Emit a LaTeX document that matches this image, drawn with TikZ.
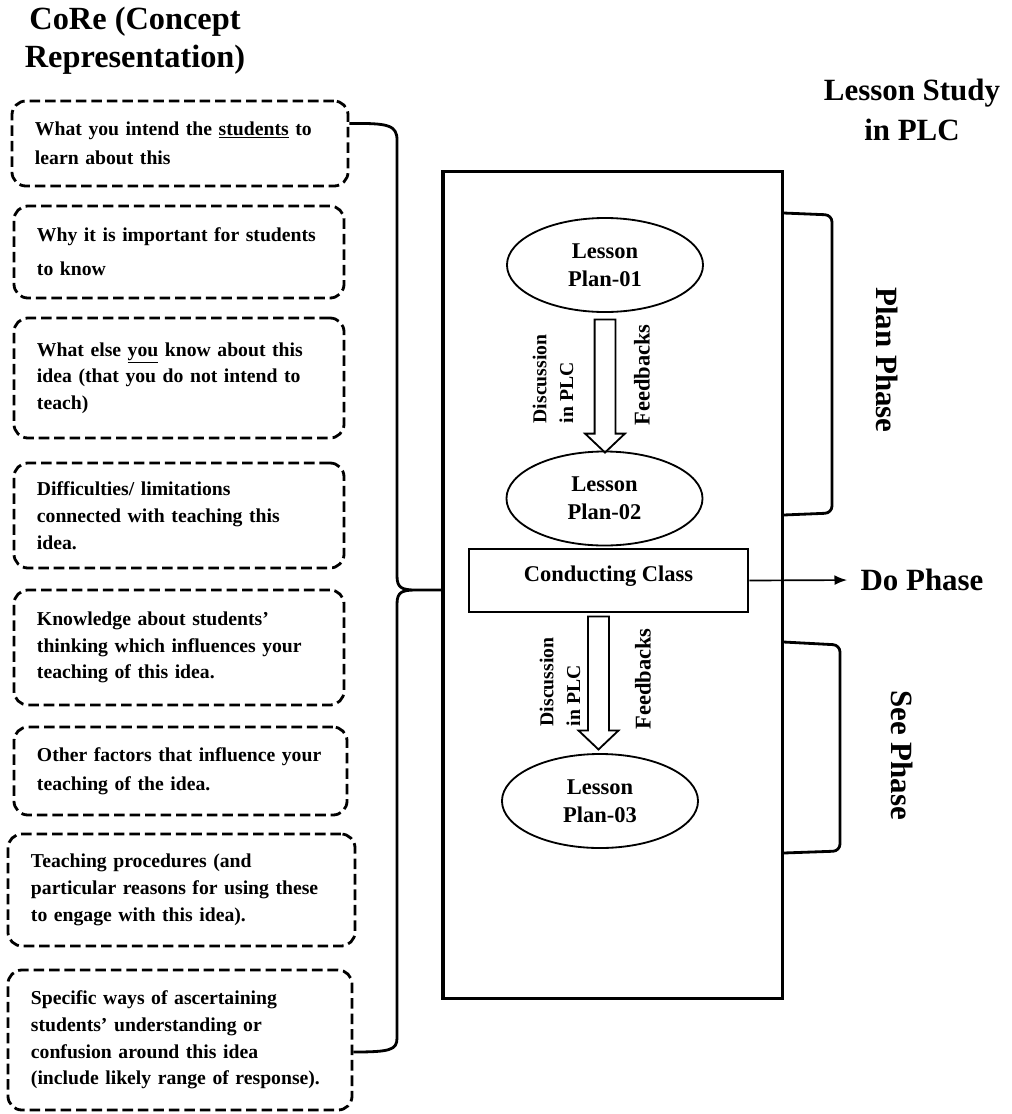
\documentclass[tikz,border=0pt]{standalone}
\usepackage{fontspec}
\setmainfont{Liberation Serif}
\usetikzlibrary{positioning, shapes.geometric, shapes.arrows, arrows.meta}

\begin{document}
\begin{tikzpicture}[x=0.025cm, y=-0.025cm,
    every node/.style={font=\bfseries},
    corebox/.style={draw, dash pattern=on 7.5pt off 3.5pt, line width=2pt, rounded corners=10pt,
        align=left, inner xsep=0.575cm, font=\fontsize{14}{19}\selectfont\bfseries},
    plan/.style={draw, ellipse, line width=1.3pt, minimum width=4.9cm, minimum height=2.35cm,
        align=center, inner sep=0pt, font=\fontsize{16}{20}\selectfont\bfseries},
    blockarrow/.style={draw, single arrow, line width=1.3pt, rotate=-90, inner xsep=0pt, inner ysep=0.2375cm,
        single arrow head extend=0.2375cm, single arrow tip angle=93, minimum height=3.325cm},
    disc/.style={rotate=90, align=left, font=\fontsize{14}{19}\selectfont\bfseries},
    feed/.style={rotate=90, font=\fontsize{16}{19}\selectfont\bfseries},
    phase/.style={font=\fontsize{22}{27}\selectfont\bfseries},
    bracket/.style={line width=2pt, rounded corners=5pt}]
    \useasboundingbox (0,0) rectangle (1012,1114);

    % CoRe column
    \node[phase, align=center, font=\fontsize{23}{27}\selectfont\bfseries] (core) at (135,41) {CoRe (Concept\\Representation)};
    \node[corebox, text width=7.25cm, minimum height=2.125cm] (c1) at (180,143.5) {What you intend the \underline{students} to\\[2pt] learn about this};
    \node[corebox, text width=7.1cm, minimum height=2.3cm] (c2) at (179,252) {Why it is important for students\\[5pt] to know};
    \node[corebox, text width=7.1cm, minimum height=3cm] (c3) at (179,378) {What else \underline{you} know about this\\ idea (that you do not intend to\\ teach)};
    \node[corebox, text width=7.1cm, minimum height=2.625cm] (c4) at (179,515.5) {Difficulties/ limitations\\ connected with teaching this\\ idea.};
    \node[corebox, text width=7.1cm, minimum height=2.875cm] (c5) at (179,647.5) {Knowledge about students'\\ thinking which influences your\\ teaching of this idea.};
    \node[corebox, text width=7.175cm, minimum height=2.2cm] (c6) at (180.5,771) {Other factors that influence your\\[2pt] teaching of the idea.};
    \node[corebox, text width=7.525cm, minimum height=2.8cm] (c7) at (181.5,890) {Teaching procedures (and\\ particular reasons for using these\\ to engage with this idea).};
    \node[corebox, text width=7.45cm, minimum height=3.5cm] (c8) at (180,1040) {Specific ways of ascertaining\\ students' understanding or\\ confusion around this idea\\ (include likely range of response).};

    % Lesson study column
    \node[phase, align=center, font=\fontsize{22}{28}\selectfont\bfseries] (lstitle) at (912,110) {Lesson Study\\in PLC};
    \node[draw, line width=2.2pt, minimum width=8.475cm, minimum height=20.65cm] (ls) at (612.5,585) {};
    \node[plan] (lp1) at (605,265) {Lesson\\Plan-01};
    \node[plan] (lp2) at (604.5,498.5) {Lesson\\Plan-02};
    \node[draw, line width=2pt, minimum width=6.975cm, minimum height=1.575cm,
        font=\fontsize{16}{19}\selectfont\bfseries] (cc) at (608.5,580.5) {\raisebox{0.35cm}{Conducting Class}};
    \node[plan] (lp3) at (600,801) {Lesson\\Plan-03};

    \node[blockarrow, anchor=tail] (ar1) at ([yshift=-4pt]lp1.south) {};
    \node[blockarrow, anchor=tail] (ar2) at ([xshift=-0.25cm, yshift=-1.5pt]cc.south) {};
    \node[disc] (d1) at (553,379) {Discussion\\in PLC};
    \node[feed] (f1) at (642,375) {Feedbacks};
    \node[disc] (d2) at (560,682) {Discussion\\in PLC};
    \node[feed] (f2) at (643,679) {Feedbacks};

    % phases
    \node[phase, rotate=-90] (plan) at (887,360) {Plan Phase};
    \node[phase] (do) at (922,580) {Do Phase};
    \node[phase, rotate=-90] (see) at (902,755) {See Phase};

    \draw[bracket] (ls.east |- 0,213) -- (832,215) -- (832,513) -- (ls.east |- 0,515);
    \draw[bracket] (ls.east |- 0,642) -- (840,645) -- (840,851) -- (ls.east |- 0,853);
    \draw[-{Latex[length=9pt, width=7pt]}, line width=1.2pt, shorten >=6pt] (cc.east) -- (do.west);

    % brace
    \coordinate (bt) at ([yshift=-0.125cm]ls.west);
    \draw[line width=2pt] ([yshift=0.5cm]c1.east) .. controls (388,123) and (397,125) .. (397,140)
        -- (397,576) .. controls (397,588) and (402,590) .. (416,590) -- (bt)
        -- (416,590) .. controls (402,590) and (397,592) .. (397,604)
        -- (397,1038) .. controls (397,1050) and (390,1052) .. ([yshift=-0.3cm]c8.east);
\end{tikzpicture}
\end{document}
